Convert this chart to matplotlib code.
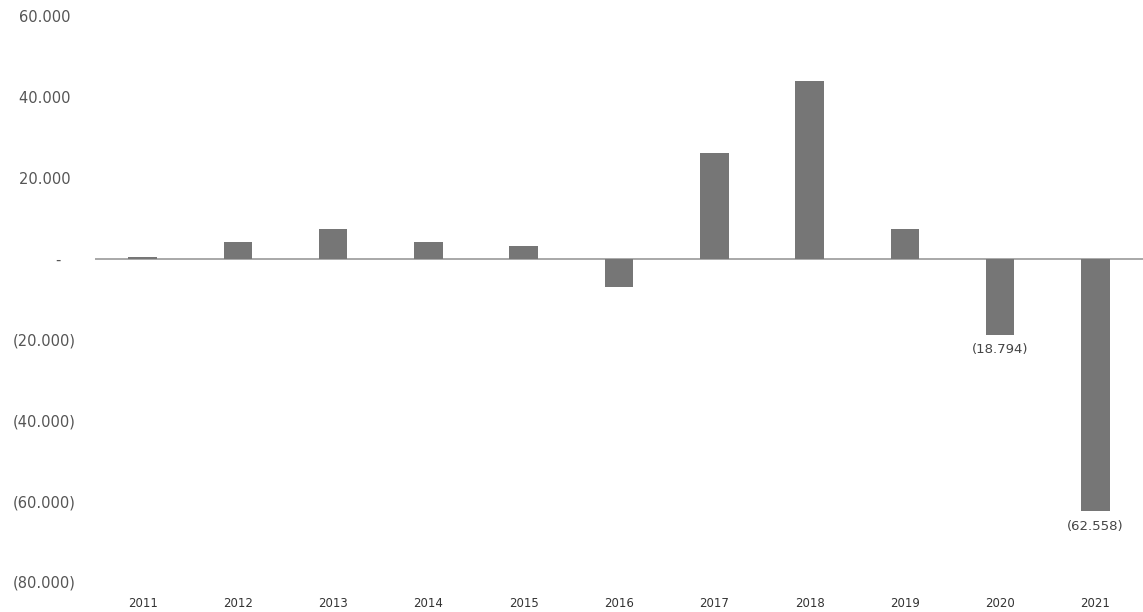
import numpy as np
import matplotlib.pyplot as plt

# dados
anos = ['2011', '2012', '2013', '2014', '2015', '2016',
        '2017', '2018', '2019', '2020', '2021']
valores = [500, 4200, 7400, 4200, 3000, -7000,
           26000, 44000, 7200, -18794, -62558]
rotulados = ['2020', '2021']

y_ticks = [60000, 40000, 20000, 0, -20000, -40000, -60000, -80000]
y_labels = ['60.000 ', '40.000 ', '20.000 ', '-   ',
            '(20.000)', '(40.000)', '(60.000)', '(80.000)']

#------------------------------------
def fmt(v):
    s = f"{abs(v):,}".replace(',', '.')
    return f"({s})" if v < 0 else s

fig = plt.figure(figsize=(11.43, 6.12), dpi=100)
ax = fig.add_axes([95/1143, 1 - 582/612, 1 - 95/1143, (582 - 16)/612])

x = np.arange(len(anos))
ax.bar(x, valores, width=0.3, color='#767676', zorder=2)
ax.axhline(0, color='#9a9a9a', linewidth=1.2, zorder=1)

for xi, ano, v in zip(x, anos, valores):
    if ano in rotulados:
        ax.annotate(fmt(v), (xi, v), xytext=(0, -6), textcoords='offset points',
                    ha='center', va='top', fontsize=9.5, color='#444444')

ax.set_xlim(-0.5, len(anos) - 0.5)
ax.set_ylim(-80000, 60000)
ax.set_yticks(y_ticks)
ax.set_yticklabels(y_labels, fontsize=10.5, color='#555555')
ax.set_xticks(x)
ax.set_xticklabels(anos, fontsize=8.5, color='#333333')
ax.tick_params(axis='y', length=0, pad=14)
ax.tick_params(axis='x', length=0, pad=11)
for s in ax.spines.values():
    s.set_visible(False)

fig.savefig('out.png', dpi=100)
